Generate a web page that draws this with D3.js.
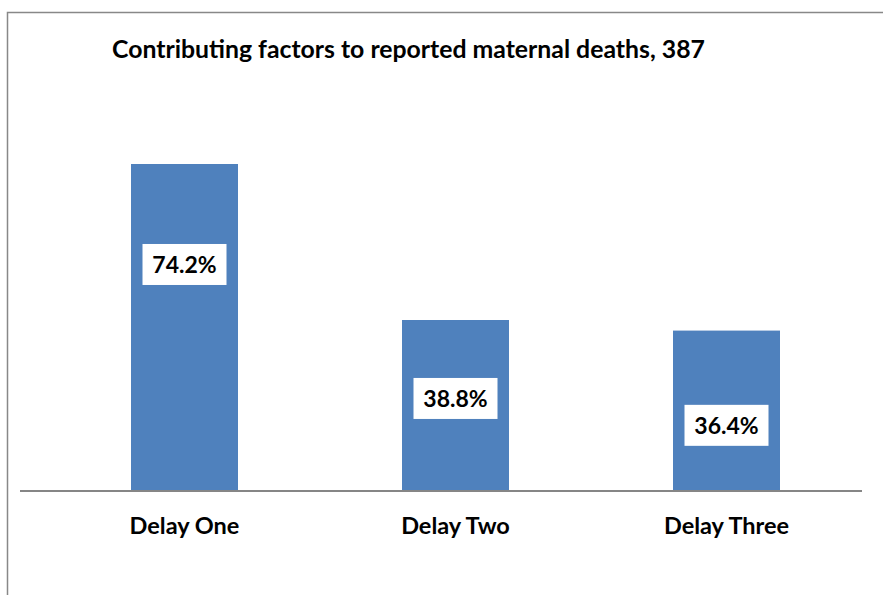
<!DOCTYPE html>
<html>
<head>
  <script src="https://d3js.org/d3.v7.min.js"></script>
  <style>
    body { margin: 0; background: #fff; }
    text { font-family: Lato, "Open Sans", sans-serif; font-weight: bold; fill: #000; }
  </style>
</head>
<body>
<svg id="mainSvg" width="883" height="595"></svg>
<script>
  // chart data
  var categories = ["Delay One", "Delay Two", "Delay Three"];
  var values = [74.2, 38.8, 36.4];
  var labels = ["74.2%", "38.8%", "36.4%"];
  // where the data label box sits, in value units
  var labelAt = [51.4, 21.0, 14.9];
  var title = "Contributing factors to reported maternal deaths, 387";

  var svg = d3.select("#mainSvg");

  // outer chart border
  svg.append("rect")
    .attr("x", 7.5).attr("y", 12.5)
    .attr("width", 1000).attr("height", 1000)
    .attr("fill", "none").attr("stroke", "#888").attr("stroke-width", 1.5);

  svg.append("text")
    .attr("x", 112).attr("y", 58)
    .attr("font-size", 24.8)
    .text(title);

  var x = d3.scalePoint()
    .domain(categories)
    .range([49, 862])
    .padding(0.5);

  var y = d3.scaleLinear()
    .domain([0, 74.2])
    .range([491, 164]);

  var barW = 107;

  svg.selectAll(".bar")
    .data(values)
    .enter()
    .append("rect")
    .attr("class", "bar")
    .attr("x", (d, i) => x(categories[i]) - barW / 2)
    .attr("y", d => y(d))
    .attr("width", barW)
    .attr("height", d => y(0) - y(d))
    .attr("fill", "#4f81bd");

  // baseline
  svg.append("line")
    .attr("x1", 20).attr("x2", 862)
    .attr("y1", y(0)).attr("y2", y(0))
    .attr("stroke", "#868686").attr("stroke-width", 2);

  // data labels in white boxes
  var lab = svg.selectAll(".lab")
    .data(labels)
    .enter()
    .append("g")
    .attr("class", "lab")
    .attr("transform", (d, i) => "translate(" + x(categories[i]) + "," + y(labelAt[i]) + ")");

  lab.append("rect")
    .attr("x", -42).attr("y", -20.5)
    .attr("width", 84).attr("height", 41)
    .attr("fill", "#fff");

  lab.append("text")
    .attr("text-anchor", "middle")
    .attr("y", 9)
    .attr("font-size", 23)
    .text(d => d);

  // category labels
  svg.selectAll(".cat")
    .data(categories)
    .enter()
    .append("text")
    .attr("class", "cat")
    .attr("x", d => x(d))
    .attr("y", 534)
    .attr("text-anchor", "middle")
    .attr("font-size", 23.5)
    .text(d => d);
</script>
</body>
</html>
